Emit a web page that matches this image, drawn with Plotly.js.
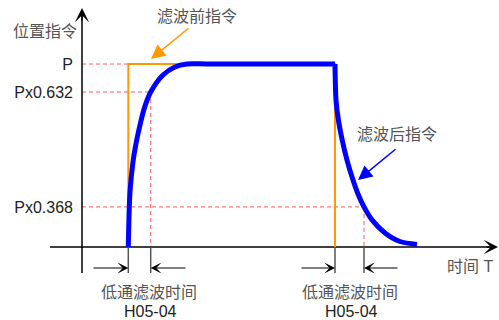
<!DOCTYPE html>
<html><head><meta charset="utf-8">
<script src="https://cdn.plot.ly/plotly-3.0.1.min.js"></script>
<style>html,body{margin:0;padding:0;background:#fff}</style>
</head><body><div id="chart" style="width:499px;height:320px"></div>
<script>
// ---- data (time in arbitrary units, position as fraction of P) ----
const levelLabels = ['P', 'Px0.632', 'Px0.368'];
const levelValues = [1.0, 0.847, 0.219];
const cmdBeforeT = [4.63, 4.63, 25.3, 25.3];
const cmdBeforeY = [0, 1, 1, 0];
// filtered command: rising edge + plateau
const cmdAfterRiseT = [4.63, 4.73, 4.83, 5.2, 5.87, 6.3, 6.87, 8.1, 9.3, 10.5, 12.5, 24.5, 25.3];
const cmdAfterRiseY = [0, 0.219, 0.322, 0.503, 0.683, 0.770, 0.847, 0.940, 0.984, 1.0, 1.0, 1.0, 1.0];
// filtered command: falling edge
const cmdAfterFallT = [25.3, 25.4, 25.64, 26.02, 26.5, 27.1, 27.6, 28.2, 29.0, 30.3, 31.8, 33.5];
const cmdAfterFallY = [1.0, 0.803, 0.694, 0.585, 0.475, 0.366, 0.290, 0.219, 0.148, 0.077, 0.030, 0.014];
const filterMarks = [4.63, 6.87, 25.3, 28.2];
const filterLabel = '低通滤波时间';
const paramLabel = 'H05-04';

// ---- pixel helpers for layout placement ----
const W = 499, H = 320;
const X0PX = 82, XS = 10, Y0PX = 247, YS = 183;
const px = p => (p - X0PX) / XS;
const py = p => (Y0PX - p) / YS;

const FONT = 'Liberation Sans, Arial, Noto Sans CJK SC';
const blueLine = {color: '#0000ff', width: 5, shape: 'spline', smoothing: 0.8};
const traces = [
  {x: cmdBeforeT, y: cmdBeforeY, mode: 'lines', line: {color: '#ff9900', width: 2}, hoverinfo: 'skip'},
  {x: cmdAfterRiseT, y: cmdAfterRiseY, mode: 'lines', line: blueLine, hoverinfo: 'skip'},
  {x: cmdAfterFallT, y: cmdAfterFallY, mode: 'lines', line: blueLine, hoverinfo: 'skip'}
];

const dashC = '#ff5a5a', dashS = '4px,3px';
const shapes = [];
const ends = [cmdBeforeT[0], filterMarks[1], filterMarks[3]];
levelValues.forEach((v, i) => {
  shapes.push({type: 'line', xref: 'x', yref: 'y', x0: 0, x1: ends[i], y0: v, y1: v, line: {color: dashC, width: 1, dash: dashS}, layer: 'below'});
});
shapes.push({type: 'line', xref: 'x', yref: 'y', x0: filterMarks[1], x1: filterMarks[1], y0: levelValues[1], y1: 0, line: {color: dashC, width: 1, dash: dashS}, layer: 'below'});
shapes.push({type: 'line', xref: 'x', yref: 'y', x0: filterMarks[3], x1: filterMarks[3], y0: levelValues[2], y1: 0, line: {color: dashC, width: 1, dash: dashS}, layer: 'below'});
shapes.push({type: 'line', xref: 'x', yref: 'y', x0: px(50), x1: px(492), y0: 0, y1: 0, line: {color: '#000', width: 1.5}, layer: 'below'});
shapes.push({type: 'line', xref: 'x', yref: 'y', x0: 0, x1: 0, y0: py(273), y1: py(14), line: {color: '#000', width: 1.5}, layer: 'below'});
filterMarks.forEach(t => {
  shapes.push({type: 'line', xref: 'x', yref: 'y', x0: t, x1: t, y0: 0, y1: py(273), line: {color: '#555', width: 1.5}, layer: 'below'});
});

function arrow(x, y, ax, ay, color, w, size, head) {
  return {x: x, y: y, ax: ax, ay: ay, xref: 'x', yref: 'y', axref: 'x', ayref: 'y', text: '', showarrow: true,
    arrowcolor: color, arrowwidth: w, arrowsize: size, arrowhead: head, standoff: 0, startstandoff: 0};
}
function label(text, cx, cy, size, color) {
  return {x: px(cx), y: py(cy), xref: 'x', yref: 'y', text: text, showarrow: false,
    xanchor: 'center', yanchor: 'middle', font: {family: FONT, size: size, color: color}};
}
const annotations = [
  arrow(px(498), 0, px(485), 0, '#000', 1.5, 1.6, 3),
  arrow(0, py(8), 0, py(22), '#000', 1.5, 1.6, 3),
  arrow(filterMarks[0], py(268), px(92), py(268), '#000', 1, 1.8, 3),
  arrow(filterMarks[1], py(268), px(187), py(268), '#000', 1, 1.8, 3),
  arrow(filterMarks[2], py(268), px(300), py(268), '#000', 1, 1.8, 3),
  arrow(filterMarks[3], py(268), px(399), py(268), '#000', 1, 1.8, 3),
  arrow(px(151), py(59), px(190), py(27), '#ff9900', 1.5, 1.9, 2),
  arrow(px(358), py(180), px(397), py(148), '#0000ff', 1.5, 1.9, 2),
  label('位置指令', 45, 31, 16, '#555'),
  label('滤波前指令', 197, 16, 16, '#555'),
  label('滤波后指令', 397, 134, 16, '#555'),
  label(filterLabel, 149, 292, 16, '#555'),
  label(paramLabel, 150, 311, 16, '#222'),
  label(filterLabel, 350, 292, 16, '#555'),
  label(paramLabel, 351, 311, 16, '#222'),
  label('时间 T', 470, 266, 16, '#555')
];

const layout = {
  width: W, height: H, margin: {l: 0, r: 0, t: 0, b: 0},
  paper_bgcolor: '#fff', plot_bgcolor: '#fff', showlegend: false,
  xaxis: {range: [px(0), px(W)], visible: false, fixedrange: true},
  yaxis: {range: [py(H), py(0)], anchor: 'free', position: X0PX / W, side: 'left',
    tickvals: levelValues, ticktext: levelLabels, showgrid: false, zeroline: false, showline: false,
    ticks: '', ticklabelstandoff: 9, tickfont: {family: FONT, size: 16, color: '#222'}, fixedrange: true},
  shapes: shapes, annotations: annotations
};
Plotly.newPlot('chart', traces, layout, {staticPlot: true, displayModeBar: false});
</script></body></html>
